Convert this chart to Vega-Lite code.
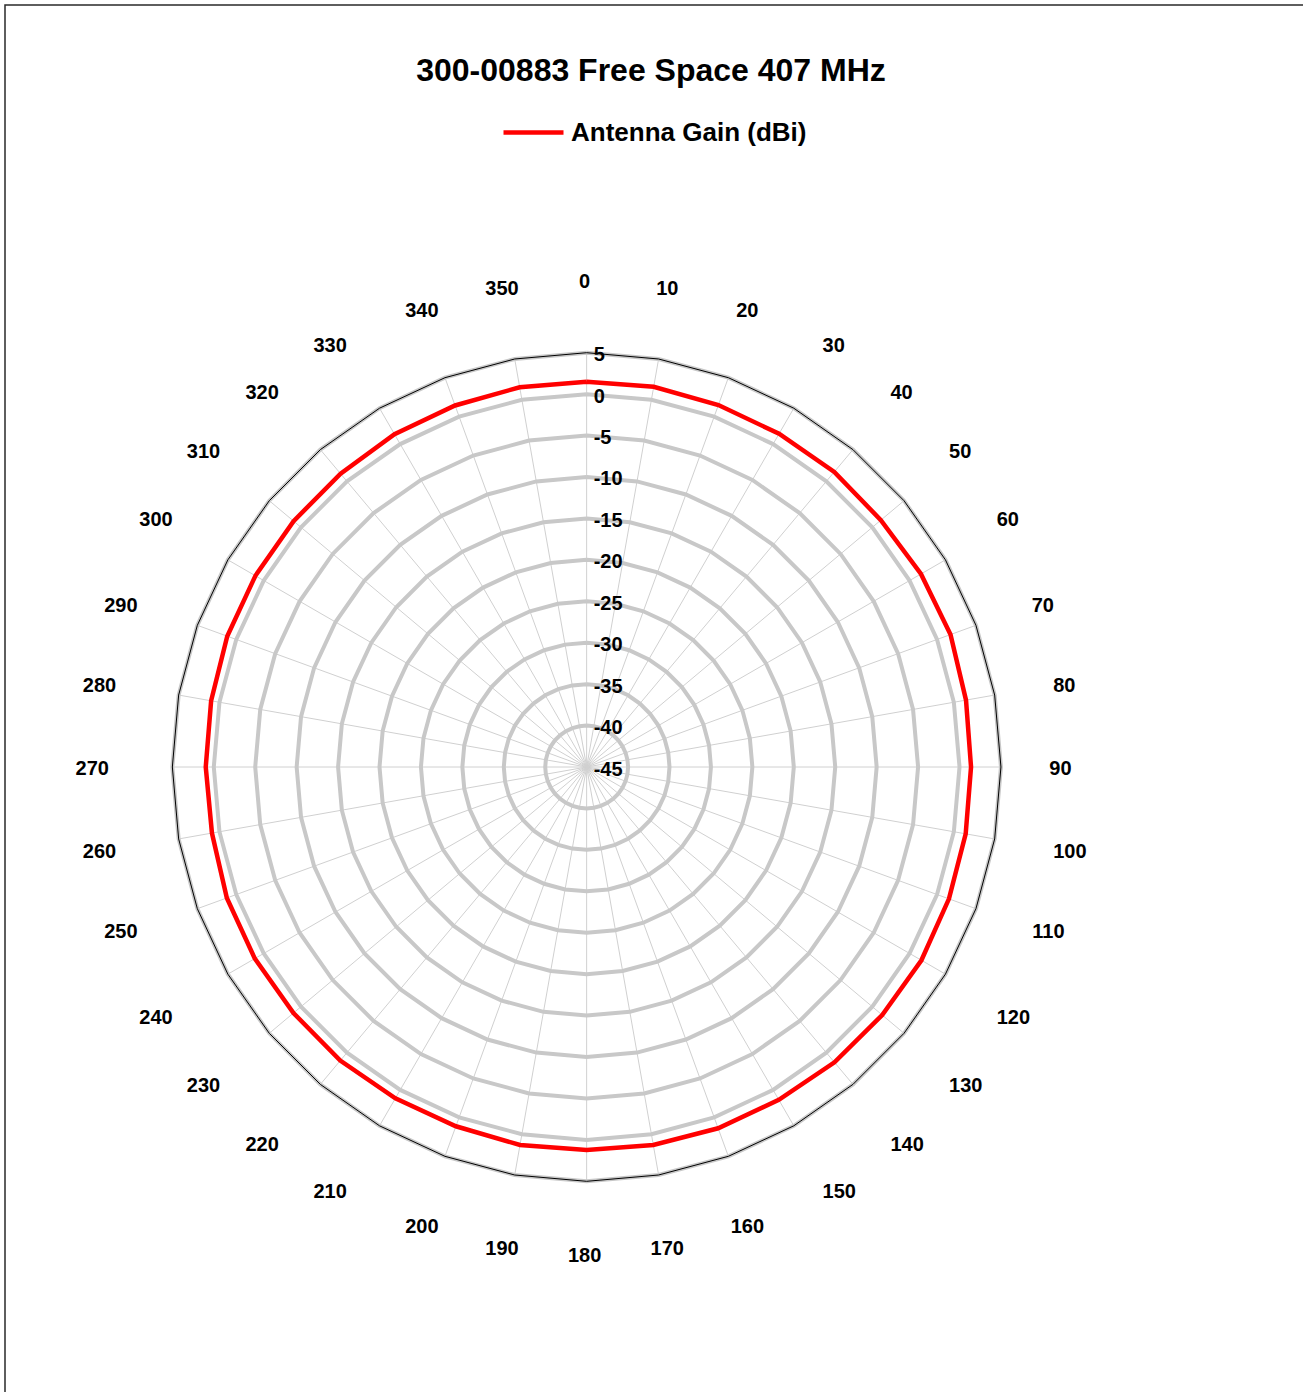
{
  "$schema": "https://vega.github.io/schema/vega-lite/v6.json",
  "autosize": {"type": "none"},
  "padding": {"left": 5, "top": 5, "right": 0, "bottom": 0},
  "width": 1300,
  "height": 1390,
  "background": "white",
  "title": {
    "text": "300-00883 Free Space 407 MHz",
    "anchor": "middle",
    "frame": "group",
    "offset": 0,
    "dy": 83,
    "dx": -4,
    "font": "Liberation Sans",
    "fontSize": 32,
    "fontWeight": "bold",
    "color": "black"
  },
  "config": {
    "view": {"stroke": "#2a2a2a", "strokeWidth": 1.5},
    "text": {"font": "Liberation Sans"}
  },
  "datasets": {
    "rings": [
      {"lv": -40, "a": [0,10,20,30,40,50,60,70,80,90,100,110,120,130,140,150,160,170,180,190,200,210,220,230,240,250,260,270,280,290,300,310,320,330,340,350,360]},
      {"lv": -35, "a": [0,10,20,30,40,50,60,70,80,90,100,110,120,130,140,150,160,170,180,190,200,210,220,230,240,250,260,270,280,290,300,310,320,330,340,350,360]},
      {"lv": -30, "a": [0,10,20,30,40,50,60,70,80,90,100,110,120,130,140,150,160,170,180,190,200,210,220,230,240,250,260,270,280,290,300,310,320,330,340,350,360]},
      {"lv": -25, "a": [0,10,20,30,40,50,60,70,80,90,100,110,120,130,140,150,160,170,180,190,200,210,220,230,240,250,260,270,280,290,300,310,320,330,340,350,360]},
      {"lv": -20, "a": [0,10,20,30,40,50,60,70,80,90,100,110,120,130,140,150,160,170,180,190,200,210,220,230,240,250,260,270,280,290,300,310,320,330,340,350,360]},
      {"lv": -15, "a": [0,10,20,30,40,50,60,70,80,90,100,110,120,130,140,150,160,170,180,190,200,210,220,230,240,250,260,270,280,290,300,310,320,330,340,350,360]},
      {"lv": -10, "a": [0,10,20,30,40,50,60,70,80,90,100,110,120,130,140,150,160,170,180,190,200,210,220,230,240,250,260,270,280,290,300,310,320,330,340,350,360]},
      {"lv": -5, "a": [0,10,20,30,40,50,60,70,80,90,100,110,120,130,140,150,160,170,180,190,200,210,220,230,240,250,260,270,280,290,300,310,320,330,340,350,360]},
      {"lv": 0, "a": [0,10,20,30,40,50,60,70,80,90,100,110,120,130,140,150,160,170,180,190,200,210,220,230,240,250,260,270,280,290,300,310,320,330,340,350,360]},
      {"lv": 5, "a": [0,10,20,30,40,50,60,70,80,90,100,110,120,130,140,150,160,170,180,190,200,210,220,230,240,250,260,270,280,290,300,310,320,330,340,350,360]}
    ],
    "angles": [
      {"a": 0, "r": [0, 50]}, {"a": 10, "r": [0, 50]}, {"a": 20, "r": [0, 50]}, {"a": 30, "r": [0, 50]},
      {"a": 40, "r": [0, 50]}, {"a": 50, "r": [0, 50]}, {"a": 60, "r": [0, 50]}, {"a": 70, "r": [0, 50]},
      {"a": 80, "r": [0, 50]}, {"a": 90, "r": [0, 50]}, {"a": 100, "r": [0, 50]}, {"a": 110, "r": [0, 50]},
      {"a": 120, "r": [0, 50]}, {"a": 130, "r": [0, 50]}, {"a": 140, "r": [0, 50]}, {"a": 150, "r": [0, 50]},
      {"a": 160, "r": [0, 50]}, {"a": 170, "r": [0, 50]}, {"a": 180, "r": [0, 50]}, {"a": 190, "r": [0, 50]},
      {"a": 200, "r": [0, 50]}, {"a": 210, "r": [0, 50]}, {"a": 220, "r": [0, 50]}, {"a": 230, "r": [0, 50]},
      {"a": 240, "r": [0, 50]}, {"a": 250, "r": [0, 50]}, {"a": 260, "r": [0, 50]}, {"a": 270, "r": [0, 50]},
      {"a": 280, "r": [0, 50]}, {"a": 290, "r": [0, 50]}, {"a": 300, "r": [0, 50]}, {"a": 310, "r": [0, 50]},
      {"a": 320, "r": [0, 50]}, {"a": 330, "r": [0, 50]}, {"a": 340, "r": [0, 50]}, {"a": 350, "r": [0, 50]}
    ],
    "levels": [
      {"lv": 5}, {"lv": 0}, {"lv": -5}, {"lv": -10}, {"lv": -15}, {"lv": -20},
      {"lv": -25}, {"lv": -30}, {"lv": -35}, {"lv": -40}, {"lv": -45}
    ],
    "gain": [
      {"a": 0, "g": 1.50}, {"a": 10, "g": 1.60}, {"a": 20, "g": 1.49}, {"a": 30, "g": 1.44},
      {"a": 40, "g": 1.49}, {"a": 50, "g": 1.35}, {"a": 60, "g": 1.59}, {"a": 70, "g": 1.73},
      {"a": 80, "g": 1.49}, {"a": 90, "g": 1.39}, {"a": 100, "g": 1.45}, {"a": 110, "g": 1.53},
      {"a": 120, "g": 1.65}, {"a": 130, "g": 1.56}, {"a": 140, "g": 1.53}, {"a": 150, "g": 1.38},
      {"a": 160, "g": 1.40}, {"a": 170, "g": 1.32}, {"a": 180, "g": 1.22}, {"a": 190, "g": 1.32},
      {"a": 200, "g": 1.14}, {"a": 210, "g": 1.17}, {"a": 220, "g": 1.26}, {"a": 230, "g": 1.19},
      {"a": 240, "g": 1.24}, {"a": 250, "g": 1.21}, {"a": 260, "g": 0.92}, {"a": 270, "g": 0.97},
      {"a": 280, "g": 1.02}, {"a": 290, "g": 1.16}, {"a": 300, "g": 1.16}, {"a": 310, "g": 1.17},
      {"a": 320, "g": 1.20}, {"a": 330, "g": 1.38}, {"a": 340, "g": 1.43}, {"a": 350, "g": 1.54},
      {"a": 360, "g": 1.50}
    ]
  },
  "layer": [
    {
      "data": {"name": "angles"},
      "transform": [
        {"flatten": ["r"]},
        {"calculate": "datum.r * sin(datum.a * PI / 180)", "as": "x"},
        {"calculate": "datum.r * cos(datum.a * PI / 180)", "as": "y"}
      ],
      "mark": {"type": "line", "stroke": "#d0d0d0", "strokeWidth": 1},
      "encoding": {
        "x": {"field": "x", "type": "quantitative", "scale": {"domain": [-70.197, 86.694], "nice": false, "zero": false}, "axis": null},
        "y": {"field": "y", "type": "quantitative", "scale": {"domain": [-75.79, 91.963], "nice": false, "zero": false}, "axis": null},
        "detail": {"field": "a", "type": "nominal"},
        "order": {"field": "r", "type": "quantitative"}
      }
    },
    {
      "data": {"name": "rings"},
      "transform": [
        {"flatten": ["a"]},
        {"calculate": "(datum.lv + 45) * sin(datum.a * PI / 180)", "as": "x"},
        {"calculate": "(datum.lv + 45) * cos(datum.a * PI / 180)", "as": "y"}
      ],
      "mark": {"type": "line", "stroke": "#c8c8c8", "strokeWidth": 4, "strokeJoin": "miter"},
      "encoding": {
        "x": {"field": "x", "type": "quantitative", "scale": {"domain": [-70.197, 86.694], "nice": false, "zero": false}, "axis": null},
        "y": {"field": "y", "type": "quantitative", "scale": {"domain": [-75.79, 91.963], "nice": false, "zero": false}, "axis": null},
        "detail": {"field": "lv", "type": "nominal"},
        "order": {"field": "a", "type": "quantitative"}
      }
    },
    {
      "data": {"name": "rings"},
      "transform": [
        {"filter": "datum.lv == 5"},
        {"flatten": ["a"]},
        {"calculate": "(datum.lv + 45) * sin(datum.a * PI / 180)", "as": "x"},
        {"calculate": "(datum.lv + 45) * cos(datum.a * PI / 180)", "as": "y"}
      ],
      "mark": {"type": "line", "stroke": "#000000", "strokeWidth": 1, "strokeJoin": "miter"},
      "encoding": {
        "x": {"field": "x", "type": "quantitative", "scale": {"domain": [-70.197, 86.694], "nice": false, "zero": false}, "axis": null},
        "y": {"field": "y", "type": "quantitative", "scale": {"domain": [-75.79, 91.963], "nice": false, "zero": false}, "axis": null},
        "order": {"field": "a", "type": "quantitative"}
      }
    },
    {
      "data": {"name": "gain"},
      "transform": [
        {"calculate": "(datum.g + 45) * sin(datum.a * PI / 180)", "as": "x"},
        {"calculate": "(datum.g + 45) * cos(datum.a * PI / 180)", "as": "y"},
        {"calculate": "'Antenna Gain (dBi)'", "as": "series"}
      ],
      "mark": {"type": "line", "strokeWidth": 4.5, "strokeJoin": "miter"},
      "encoding": {
        "x": {"field": "x", "type": "quantitative", "scale": {"domain": [-70.197, 86.694], "nice": false, "zero": false}, "axis": null},
        "y": {"field": "y", "type": "quantitative", "scale": {"domain": [-75.79, 91.963], "nice": false, "zero": false}, "axis": null},
        "order": {"field": "a", "type": "quantitative"},
        "color": {
          "field": "series",
          "type": "nominal",
          "scale": {"range": ["#ff0000"]},
          "legend": {
            "title": null,
            "orient": "none",
            "legendX": 496,
            "legendY": 95,
            "symbolType": "stroke",
            "symbolSize": 3600,
            "symbolStrokeWidth": 4.5,
            "labelFont": "Liberation Sans",
            "labelFontSize": 26,
            "labelFontWeight": "bold",
            "labelColor": "black",
            "labelOffset": 5,
            "labelLimit": 400
          }
        }
      }
    },
    {
      "data": {"name": "levels"},
      "transform": [
        {"calculate": "datum.lv + 45", "as": "r"},
        {"calculate": "0", "as": "x"}
      ],
      "mark": {"type": "text", "align": "left", "baseline": "middle", "dx": 7, "dy": 2.5, "fontSize": 20, "fontWeight": "bold", "color": "black"},
      "encoding": {
        "x": {"field": "x", "type": "quantitative", "scale": {"domain": [-70.197, 86.694], "nice": false, "zero": false}, "axis": null},
        "y": {"field": "r", "type": "quantitative", "scale": {"domain": [-75.79, 91.963], "nice": false, "zero": false}, "axis": null},
        "text": {"field": "lv", "type": "nominal"}
      }
    },
    {
      "data": {"name": "angles"},
      "transform": [
        {"calculate": "length(toString(datum.a))", "as": "n"},
        {"calculate": "(datum.a >= 30 && datum.a <= 150 && datum.a != 90) ? 1 : ((datum.a >= 210 && datum.a <= 330) ? -1 : 0)", "as": "hs"},
        {"calculate": "((datum.a >= 70 && datum.a <= 110) || (datum.a >= 250 && datum.a <= 290)) ? -0.241 : ((datum.a < 70 || datum.a > 290) ? 1.116 : -1.599)", "as": "vo"},
        {"calculate": "57.416 * sin(datum.a * PI / 180) + datum.hs * 0.671 * datum.n", "as": "x"},
        {"calculate": "57.416 * cos(datum.a * PI / 180) + datum.vo", "as": "y"}
      ],
      "mark": {"type": "text", "align": "center", "baseline": "middle", "dx": -2, "fontSize": 20, "fontWeight": "bold", "color": "black"},
      "encoding": {
        "x": {"field": "x", "type": "quantitative", "scale": {"domain": [-70.197, 86.694], "nice": false, "zero": false}, "axis": null},
        "y": {"field": "y", "type": "quantitative", "scale": {"domain": [-75.79, 91.963], "nice": false, "zero": false}, "axis": null},
        "text": {"field": "a", "type": "nominal"}
      }
    }
  ]
}
